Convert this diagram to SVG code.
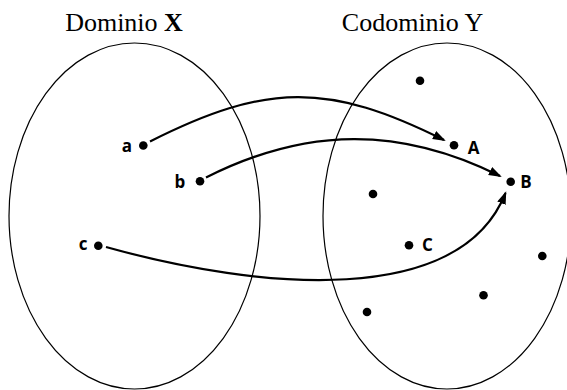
<svg xmlns="http://www.w3.org/2000/svg" width="567" height="390" viewBox="0 0 567 390">
<style>
.set{fill:none;stroke:#000;stroke-width:1.2}
.title{font-family:"Liberation Serif",serif;font-size:26px;fill:#000}
.lbl{font-family:"Open Sans","Noto Sans",sans-serif;font-weight:bold;font-size:17px;fill:#000}
.dot{fill:#000}
.arr{fill:none;stroke:#000;stroke-width:2.2}
</style>
<defs>
<marker id="ah" markerUnits="userSpaceOnUse" markerWidth="14" markerHeight="10" refX="11" refY="4.5" orient="auto">
<path d="M0,0 L13,4.5 L0,9 z" fill="#000"/>
</marker>
</defs>
<g id="domain">
<ellipse class="set" cx="134.5" cy="216" rx="125.5" ry="173"/>
<text class="title" x="124" y="31" text-anchor="middle">Dominio <tspan font-weight="bold">X</tspan></text>
</g>
<g id="codomain">
<ellipse class="set" cx="447" cy="216" rx="124" ry="173"/>
<text class="title" x="412.5" y="31" text-anchor="middle">Codominio Y</text>
</g>
<g id="node-a"><circle class="dot" cx="143.3" cy="145.5" r="4.3"/><text class="lbl" x="127" y="152" text-anchor="middle">a</text></g>
<g id="node-b"><circle class="dot" cx="200" cy="181.3" r="4.3"/><text class="lbl" x="180" y="187.5" text-anchor="middle">b</text></g>
<g id="node-c"><circle class="dot" cx="98.3" cy="245.7" r="4.3"/><text class="lbl" x="83" y="250" text-anchor="middle">c</text></g>
<g id="node-A"><circle class="dot" cx="454" cy="145.3" r="4.3"/><text class="lbl" x="473.5" y="154" text-anchor="middle">A</text></g>
<g id="node-B"><circle class="dot" cx="510.7" cy="181.7" r="4.3"/><text class="lbl" x="526" y="187.5" text-anchor="middle">B</text></g>
<g id="node-C"><circle class="dot" cx="409" cy="245.3" r="4.3"/><text class="lbl" x="427.5" y="250.5" text-anchor="middle">C</text></g>
<g id="node-y1"><circle class="dot" cx="420" cy="80.7" r="4.3"/></g>
<g id="node-y2"><circle class="dot" cx="373" cy="194" r="4.3"/></g>
<g id="node-y3"><circle class="dot" cx="542.3" cy="256" r="4.3"/></g>
<g id="node-y4"><circle class="dot" cx="483.5" cy="295.3" r="4.3"/></g>
<g id="node-y5"><circle class="dot" cx="367" cy="312" r="4.3"/></g>
<g id="connectors">
<path class="arr" d="M150,141.5 C267,82.5 329,82.5 444,140" marker-end="url(#ah)"/>
<path class="arr" d="M206,177.5 C307,126.5 401,126.5 500,176" marker-end="url(#ah)"/>
<path class="arr" d="M106,247 C260,290 460,308 505.5,193" marker-end="url(#ah)"/>
</g>
</svg>
